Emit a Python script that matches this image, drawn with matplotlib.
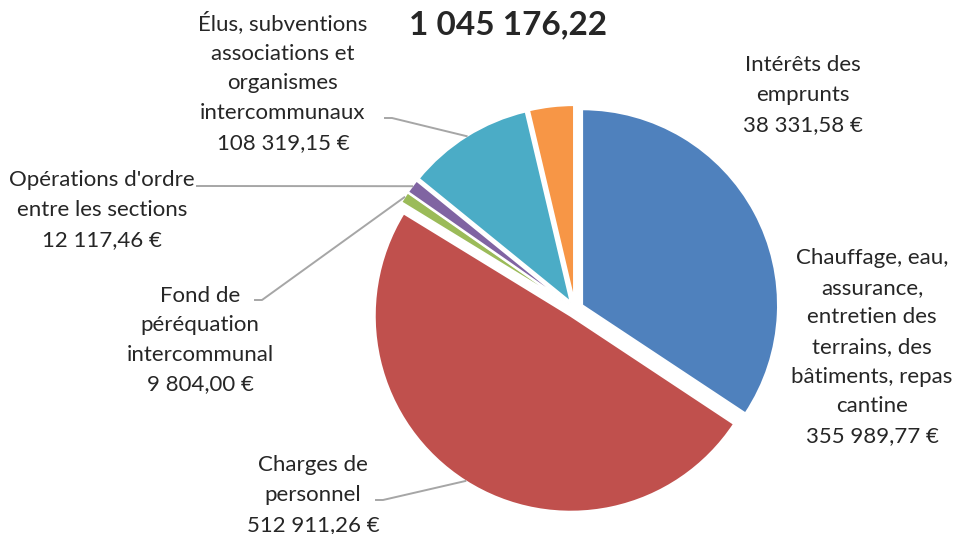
import numpy as np
import matplotlib.pyplot as plt

plt.rcParams['font.family'] = ['Lato', 'DejaVu Sans']

title = "1 045 176,22"
labels = ["Chauffage, eau,\nassurance,\nentretien des\nterrains, des\nbâtiments, repas\ncantine",
          "Charges de\npersonnel",
          "Fond de\npéréquation\nintercommunal",
          "Opérations d'ordre\nentre les sections",
          "Élus, subventions\nassociations et\norganismes\nintercommunaux",
          "Intérêts des\nemprunts"]
values = [355989.77, 512911.26, 9804.00, 12117.46, 108319.15, 38331.58]
colors = ['#4F81BD', '#C0504D', '#9BBB59', '#8064A2', '#4BACC6', '#F79646']

# layout (pixel coords, y from top)
W, H = 954, 534
cx, cy, R = 575, 309, 196
explode = 8  # pixels, pie doesn't scale explode by radius
label_pos = [(872, 347), (313, 495), (200, 340), (102, 210), (283, 82), (803, 95)]
leader_from = [None, (376, 500), (255, 300), (197, 186), (385, 118), None]

fig = plt.figure(figsize=(W / 100, H / 100), dpi=100)
ax = fig.add_axes([0, 0, 1, 1])

wedges, _ = ax.pie(values, colors=colors, startangle=90, counterclock=False,
                   center=(cx, H - cy), radius=R, explode=[explode] * len(values),
                   wedgeprops=dict(edgecolor='white', linewidth=1.5))
ax.set_xlim(0, W)
ax.set_ylim(0, H)
ax.set_aspect('equal')
ax.axis('off')

for i, (lab, v) in enumerate(zip(labels, values)):
    s = f"{v:,.2f}".replace(",", " ").replace(".", ",") + " €"
    x, y = label_pos[i]
    ax.text(x, H - y, lab + "\n" + s, ha='center', va='center', fontsize=16,
            color='#262626', linespacing=1.6)
    if leader_from[i] is not None:
        w = wedges[i]
        mid = np.deg2rad((w.theta1 + w.theta2) / 2)
        px = w.center[0] + R * np.cos(mid)
        py = w.center[1] + R * np.sin(mid)
        lx, ly = leader_from[i]
        ax.plot([lx, lx + 7, px], [H - ly, H - ly, py], color='#A6A6A6', lw=1.4)

ax.text(508, H - 25, title, ha='center', va='center', fontsize=24,
        fontweight='bold', color='#262626')

fig.savefig('out.png', dpi=100)
